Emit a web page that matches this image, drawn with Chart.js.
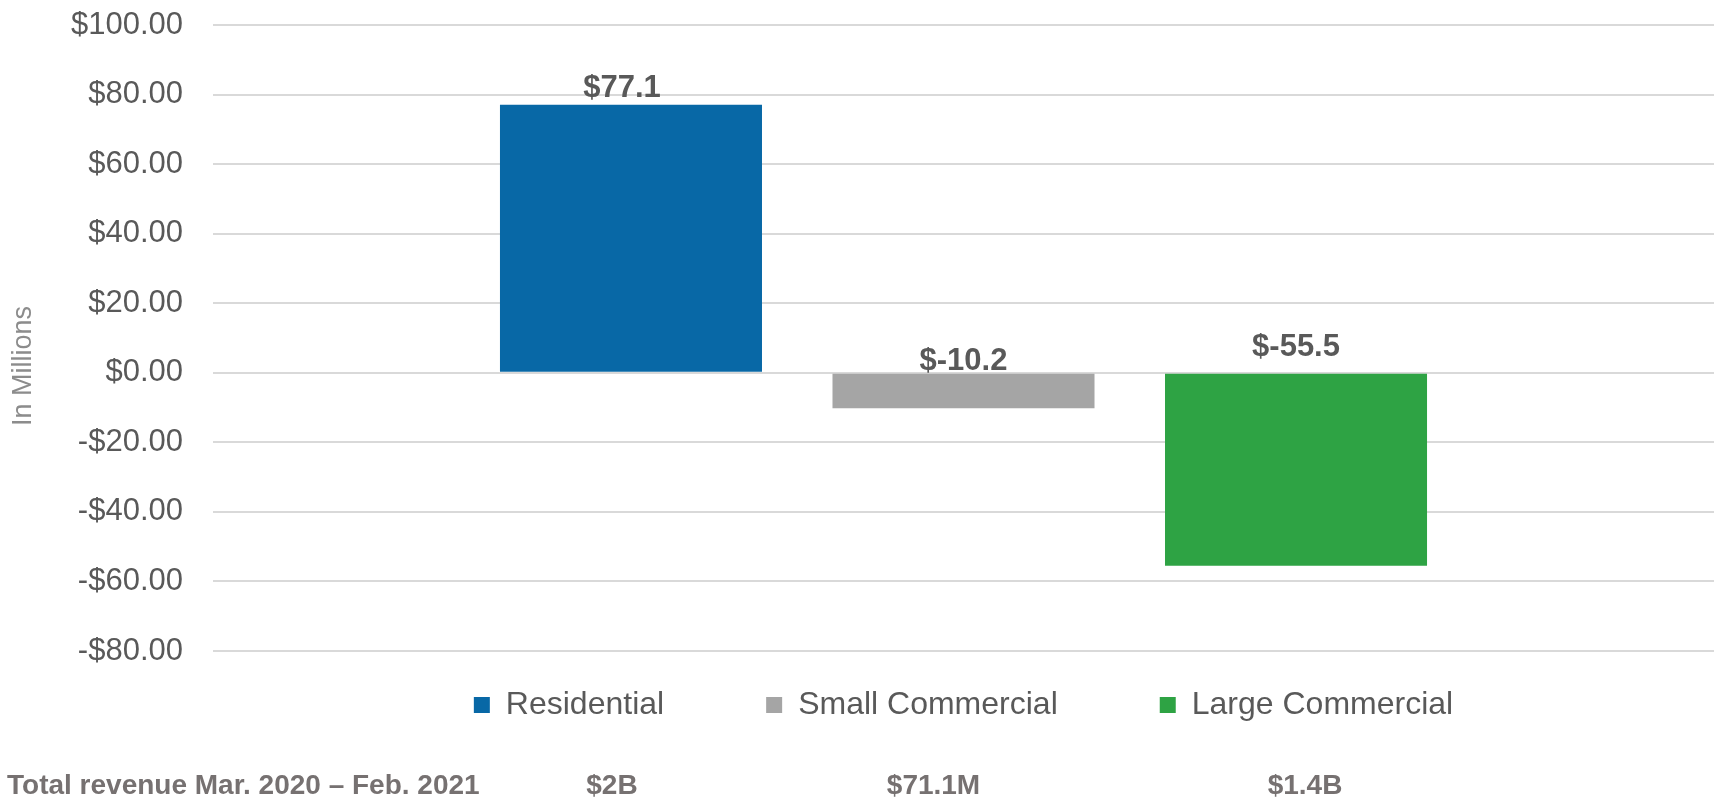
<!DOCTYPE html>
<html lang="en">

    <head>
        <meta charset="UTF-8">
        <meta name="viewport" content="width=device-width, initial-scale=1.0">
        <title>Revenue change by customer class</title>
        <script src="https://cdn.jsdelivr.net/npm/chart.js@4.4.1/dist/chart.umd.min.js"></script>
        <style>
            html, body { margin: 0; padding: 0; background: #fff; }
        </style>
    </head>

    <body>
        <canvas id="revenueChart" width="1717" height="799"></canvas>

        <script>
            // values (in millions)
            const categories = [''];
            const seriesNames = ['Residential', 'Small Commercial', 'Large Commercial'];
            const changeValues = [77.1, -10.2, -55.5];
            const totalRevenueCaption = 'Total revenue Mar. 2020 \u2013 Feb. 2021';
            const totalRevenue = ['$2B', '$71.1M', '$1.4B'];
            const yTitle = 'In Millions';
            const yMin = -80;
            const yMax = 100;
            const yStep = 20;

            const barColors = ['#0868a6', '#a5a5a5', '#2ea344'];
            const textColor = '#595959';
            const fontFamily = '"Liberation Sans", Arial, sans-serif';

            const money = (v) => (v < 0 ? '-$' : '$') + Math.abs(v).toFixed(2);

            // value labels above the bars / above the zero line for negatives
            const valueLabels = {
                id: 'valueLabels',
                afterDatasetsDraw(chart, args, opts) {
                    const ctx = chart.ctx;
                    ctx.save();
                    ctx.font = 'bold 31px ' + fontFamily;
                    ctx.fillStyle = textColor;
                    ctx.textAlign = 'center';
                    ctx.textBaseline = 'alphabetic';
                    chart.data.datasets.forEach((ds, i) => {
                        const bar = chart.getDatasetMeta(i).data[0];
                        const v = ds.data[0];
                        const top = v >= 0 ? bar.y : bar.base;
                        ctx.fillText('$' + v.toFixed(1), bar.x + opts.shift[i], top - opts.lift[i]);
                    });
                    ctx.restore();
                }
            };

            // axis title sits a bit below the middle in the original
            const axisTitle = {
                id: 'axisTitle',
                afterDraw(chart) {
                    const ctx = chart.ctx;
                    const area = chart.chartArea;
                    ctx.save();
                    ctx.translate(24, (area.top + area.bottom) / 2 + 28);
                    ctx.rotate(-Math.PI / 2);
                    ctx.font = '27px ' + fontFamily;
                    ctx.fillStyle = '#8c8c8c';
                    ctx.textAlign = 'center';
                    ctx.textBaseline = 'middle';
                    ctx.fillText(yTitle, 0, 0);
                    ctx.restore();
                }
            };

            // "Total revenue" row under the legend
            const revenueRow = {
                id: 'revenueRow',
                afterDraw(chart, args, opts) {
                    const ctx = chart.ctx;
                    const y = 794;
                    ctx.save();
                    ctx.font = 'bold 28px ' + fontFamily;
                    ctx.fillStyle = '#767171';
                    ctx.textBaseline = 'alphabetic';
                    ctx.textAlign = 'left';
                    ctx.fillText(totalRevenueCaption, 7, y);
                    ctx.textAlign = 'center';
                    totalRevenue.forEach((txt, i) => {
                        const bar = chart.getDatasetMeta(i).data[0];
                        ctx.fillText(txt, bar.x + opts.shift[i], y);
                    });
                    ctx.restore();
                }
            };

            const revenueChart = new Chart(document.getElementById('revenueChart').getContext('2d'), {
                type: 'bar',
                data: {
                    labels: categories,
                    datasets: seriesNames.map((name, i) => ({
                        label: name,
                        data: [changeValues[i]],
                        backgroundColor: barColors[i],
                        borderWidth: 0,
                        categoryPercentage: 0.6646,
                        barPercentage: 0.788
                    }))
                },
                options: {
                    responsive: false,
                    animation: false,
                    devicePixelRatio: 1,
                    layout: {
                        padding: { top: 25, right: 3, bottom: 68, left: 0 }
                    },
                    scales: {
                        x: {
                            display: false
                        },
                        y: {
                            min: yMin,
                            max: yMax,
                            border: { display: false },
                            grid: {
                                color: '#d9d9d9',
                                lineWidth: 2,
                                drawTicks: true,
                                tickLength: 30,
                                tickColor: 'rgba(0,0,0,0)'
                            },
                            ticks: {
                                stepSize: yStep,
                                padding: 0,
                                color: textColor,
                                font: { family: fontFamily, size: 31 },
                                callback: (v) => money(v)
                            },
                            afterFit: (scale) => { scale.width = 213; }
                        }
                    },
                    plugins: {
                        legend: {
                            position: 'bottom',
                            fullSize: false,
                            labels: {
                                color: textColor,
                                font: { family: fontFamily, size: 32 },
                                boxWidth: 16,
                                boxHeight: 16,
                                padding: 38,
                                generateLabels: (chart) => {
                                    const items = Chart.defaults.plugins.legend.labels.generateLabels(chart);
                                    // Excel spreads the entries wider than Chart.js does
                                    items.forEach((item, i) => {
                                        if (i < items.length - 1) item.text += '\u2003\u2003';
                                        item.lineWidth = 0;
                                    });
                                    return items;
                                }
                            }
                        },
                        tooltip: { enabled: true },
                        valueLabels: { lift: [8, 4, 18], shift: [-9, 0, 0] },
                        revenueRow: { shift: [-19, -30, 9] }
                    }
                },
                plugins: [valueLabels, axisTitle, revenueRow]
            });
        </script>
    </body>

</html>
